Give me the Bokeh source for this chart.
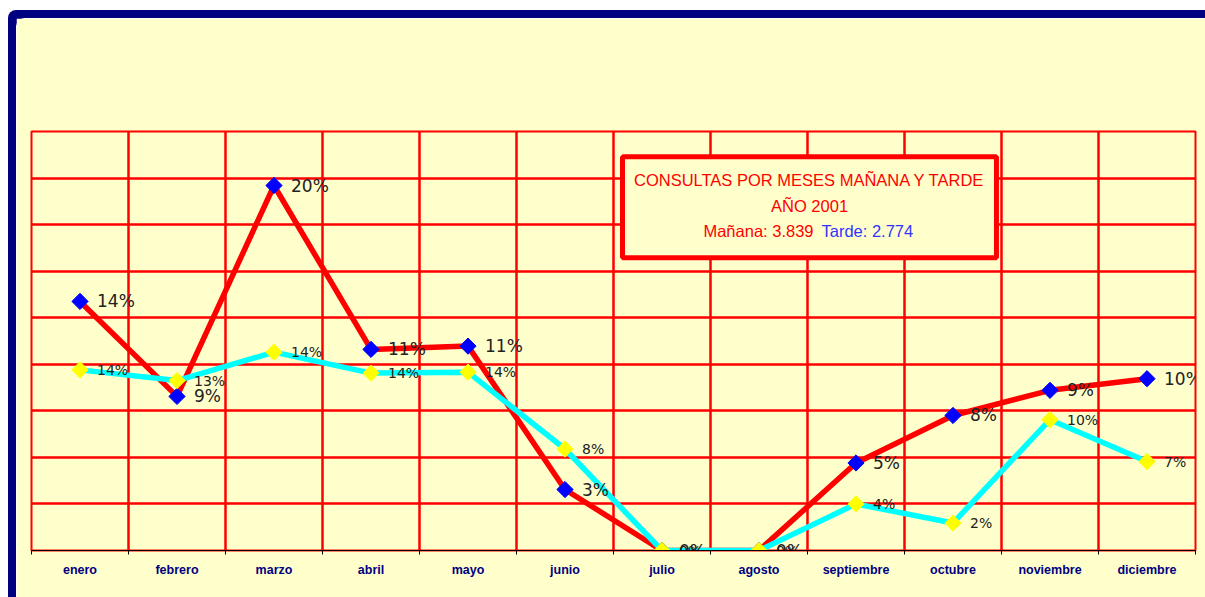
import math
from bokeh.plotting import figure
from bokeh.models import FixedTicker, BoxAnnotation, Label
from bokeh.embed import file_html
from bokeh.resources import INLINE
from bokeh.core.properties import value

# ---------------- data ----------------
meses = ["enero", "febrero", "marzo", "abril", "mayo", "junio", "julio",
         "agosto", "septiembre", "octubre", "noviembre", "diciembre"]
manana = [535, 331, 784, 432, 439, 131, 0, 0, 188, 290, 344, 369]
tarde = [388, 365, 426, 381, 383, 218, 0, 0, 100, 59, 281, 191]
manana_pct = ["14%", "9%", "20%", "11%", "11%", "3%", "0%", "0%", "5%", "8%", "9%", "10%"]
tarde_pct = ["14%", "13%", "14%", "14%", "14%", "8%", "0%", "0%", "4%", "2%", "10%", "7%"]
titulo1 = "CONSULTAS POR MESES MAÑANA Y TARDE"
titulo2 = "AÑO 2001"
total_manana = "Mañana: 3.839"
total_tarde = "Tarde: 2.774"
y_max = 900
y_step = 100

xs = [i + 0.5 for i in range(len(meses))]
BG = "#FFFFCC"
NAVY = "#000080"

p = figure(width=1189, height=579, x_range=(0, len(meses)), y_range=(0, y_max),
           output_backend="svg", toolbar_location=None, y_axis_location=None,
           min_border_left=15, min_border_right=10, min_border_top=113,
           min_border_bottom=47,
           background_fill_color=BG, border_fill_color=BG,
           outline_line_color="#FF0000", outline_line_width=2)
p.styles = {"transform": "translate(16px, 18px)",
            "box-shadow": f"-8px -8px 0 0 {NAVY}, 0 -8px 0 0 {NAVY}, -8px 0 0 0 {NAVY}",
            "border-top-left-radius": "8px"}

# grid
p.xgrid.ticker = FixedTicker(ticks=list(range(len(meses) + 1)))
p.ygrid.ticker = FixedTicker(ticks=list(range(y_step, y_max + y_step, y_step)))
p.grid.grid_line_color = "#FF0000"
p.grid.grid_line_width = 2.5
p.grid.grid_line_alpha = 1.0

# x axis
p.xaxis.ticker = FixedTicker(ticks=xs, minor_ticks=list(range(len(meses) + 1)))
p.xaxis.major_label_overrides = {x: m for x, m in zip(xs, meses)}
p.xaxis.major_tick_out = 0
p.xaxis.major_tick_in = 0
p.xaxis.minor_tick_out = 4
p.xaxis.minor_tick_in = 0
p.xaxis.minor_tick_line_color = "black"
p.xaxis.axis_line_color = "black"
p.xaxis.axis_line_width = 1
p.xaxis.major_label_standoff = 8
p.xaxis.major_label_text_font = "Liberation Sans"
p.xaxis.major_label_text_font_style = "bold"
p.xaxis.major_label_text_font_size = "12.5px"
p.xaxis.major_label_text_color = NAVY

# series
p.line(xs, manana, line_color="#FF0000", line_width=5.5)
p.scatter(xs, manana, marker="square", angle=math.pi / 4, size=11.5,
          fill_color="#0000FF", line_color="#0000FF")
p.line(xs, tarde, line_color="#00FFFF", line_width=5.5)
p.scatter(xs, tarde, marker="square", angle=math.pi / 4, size=11.5,
          fill_color="#FFFF00", line_color="#FFFF00")

p.text(xs, manana, text=manana_pct, x_offset=17, text_align="left",
       text_baseline="middle", text_font=value("DejaVu Sans"),
       text_font_size="17px", text_color="#222222")
p.text(xs, tarde, text=tarde_pct, x_offset=17, text_align="left",
       text_baseline="middle", text_font=value("DejaVu Sans"),
       text_font_size="14px", text_color="#222222")

# title box
p.add_layout(BoxAnnotation(left=6.093, right=9.948, bottom=629, top=846,
                           fill_color=BG, fill_alpha=1.0,
                           line_color="#FF0000", line_width=5, line_alpha=1.0))
p.add_layout(Label(x=8.021, y=795, text=titulo1, text_align="center",
                   text_baseline="middle", text_font="Liberation Sans",
                   text_font_size="16.5px", text_color="#FF0000"))
p.add_layout(Label(x=8.021, y=741, text=titulo2, text_align="center",
                   text_baseline="middle", text_font="Liberation Sans",
                   text_font_size="16.5px", text_color="#FF0000"))
p.add_layout(Label(x=8.062, y=687, text=total_manana, text_align="right",
                   text_baseline="middle", text_font="Liberation Sans",
                   text_font_size="16.5px", text_color="#FF0000"))
p.add_layout(Label(x=8.144, y=687, text=total_tarde, text_align="left",
                   text_baseline="middle", text_font="Liberation Sans",
                   text_font_size="16.5px", text_color="#3333FF"))

open("out.html", "w").write(file_html(p, INLINE))
